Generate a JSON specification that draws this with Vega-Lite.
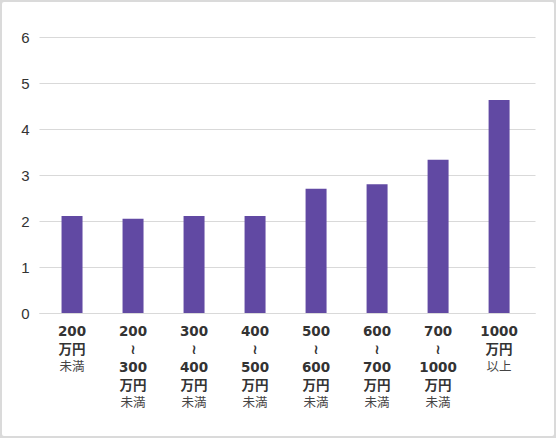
{
  "$schema": "https://vega.github.io/schema/vega-lite/v6.json",
  "width": 556,
  "height": 438,
  "autosize": "none",
  "padding": 0,
  "background": "white",
  "config": {
    "view": {"stroke": "#dadada", "strokeWidth": 4, "cornerRadius": 4},
    "axis": {"ticks": false, "title": null, "labelOverlap": false, "labelBound": false}
  },
  "data": {
    "values": [
      {"income": "200|万円|未満", "value": 2.11},
      {"income": "200|≀|300|万円|未満", "value": 2.05},
      {"income": "300|≀|400|万円|未満", "value": 2.11},
      {"income": "400|≀|500|万円|未満", "value": 2.11},
      {"income": "500|≀|600|万円|未満", "value": 2.70},
      {"income": "600|≀|700|万円|未満", "value": 2.80},
      {"income": "700|≀|1000|万円|未満", "value": 3.33},
      {"income": "1000|万円|以上", "value": 4.63}
    ]
  },
  "layer": [
    {
      "mark": {"type": "bar", "color": "#6149a3"},
      "encoding": {
        "x": {
          "field": "income", "type": "nominal", "sort": null,
          "scale": {"range": [39, 535], "paddingInner": 0.656, "paddingOuter": 0.393, "align": 0.47},
          "axis": {
            "orient": "bottom", "offset": -125, "labelAngle": 0,
            "domain": true, "domainColor": "#d9d9d9",
            "labelFont": "DejaVu Sans, Noto Sans CJK JP", "labelFontSize": 13.5, "labelFontWeight": "bold",
            "labelColor": "#333333", "labelLineHeight": 18, "labelPadding": 11,
            "labelExpr": "slice(split(datum.value, '|'), 0, -1)"
          }
        },
        "y": {
          "field": "value", "type": "quantitative",
          "scale": {"domain": [0, 6], "range": [313, 37], "nice": false},
          "axis": {
            "offset": -39, "values": [0, 1, 2, 3, 4, 5, 6], "format": "d", "domain": false,
            "grid": true, "gridColor": "#d9d9d9",
            "labelFont": "Liberation Sans", "labelFontSize": 15, "labelColor": "#333333", "labelPadding": 10
          }
        }
      }
    },
    {
      "mark": {"type": "bar", "opacity": 0},
      "encoding": {
        "x": {
          "field": "income", "type": "nominal", "sort": null,
          "scale": {"range": [39, 535], "paddingInner": 0.656, "paddingOuter": 0.393, "align": 0.47},
          "axis": {
            "orient": "bottom", "offset": -125, "labelAngle": 0, "domain": false,
            "labelFont": "Noto Sans CJK JP", "labelFontSize": 12.5,
            "labelColor": "#444444",
            "labelPadding": {"condition": {"test": "length(split(datum.value, '|')) > 3", "value": 83}, "value": 47},
            "labelExpr": "peek(split(datum.value, '|'))"
          }
        },
        "y": {"field": "value", "type": "quantitative"}
      }
    }
  ],
  "resolve": {"axis": {"x": "independent"}}
}
